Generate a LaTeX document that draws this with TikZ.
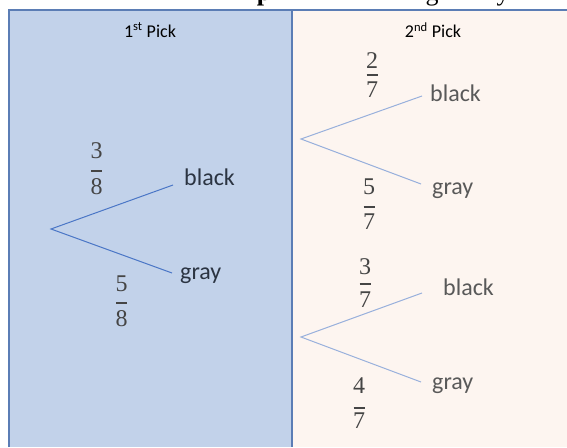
\documentclass[tikz,border=0pt]{standalone}
\usepackage{fontspec}
\setmainfont{Carlito}
\newfontfamily\titlefont{Liberation Serif}
\newfontfamily\digitfont{Liberation Serif}
\definecolor{leftfill}{HTML}{C2D2EA}
\definecolor{rightfill}{HTML}{FDF5F0}
\definecolor{panelline}{HTML}{5B7DB5}
\definecolor{branchdark}{HTML}{4A76C6}
\definecolor{branchlight}{HTML}{98B0DC}
\definecolor{labeldark}{HTML}{2B3442}
\definecolor{labelgray}{HTML}{595959}
\definecolor{fraccol}{HTML}{454545}
\tikzset{
  head/.style={font=\fontsize{18}{20}\selectfont, text=black, inner sep=0pt},
  outcome/.style={font=\fontsize{24}{28}\selectfont, inner sep=0pt, anchor=west},
  digit/.style={font=\digitfont\fontsize{24}{28}\selectfont, text=fraccol, inner sep=0pt},
  fracbar/.style={draw=fraccol, line width=1.3pt},
  cutglyph/.style={font=\titlefont\fontsize{26}{30}\selectfont, anchor=base, inner sep=0pt},
  branchL/.style={draw=branchdark, line width=1pt},
  branchR/.style={draw=branchlight, line width=1pt},
}
% \probfrac{name}{x}{y numerator}{y bar}{y denominator}{numerator}{denominator}
\newcommand\probfrac[7]{%
  \node[digit] (#1n) at (#2,#3) {#6};
  \node[digit] (#1d) at (#2,#5) {#7};
  \draw[fracbar] ([xshift=-5.5pt]#2,#4) -- ([xshift=5.5pt]#2,#4);
}
\begin{document}
\begin{tikzpicture}[x=1pt,y=-1pt]
\useasboundingbox (0,0) rectangle (567,447);
% panels
\fill[rightfill] (292,10) rectangle (567,447);
\fill[leftfill] (9,10) rectangle (292,447);
\draw[panelline, line width=1.2pt] (9,447) -- (9,10) -- (567,10);
\draw[panelline, line width=1.2pt] (292,10) -- (292,447);
% heading line above, cut by the top edge
\begin{scope}
\clip (0,0) rectangle (567,8.5);
\node[cutglyph, font=\titlefont\bfseries\fontsize{26}{30}\selectfont] (tp) at (264,1) {p};
\node[cutglyph] (tg) at (432,1) {g};
\node[cutglyph] (ty) at (503,1) {y};
\end{scope}
% column headings
\node[head] (h1) at (150,30) {1\textsuperscript{st} Pick};
\node[head] (h2) at (433,30) {2\textsuperscript{nd} Pick};
% first pick
\coordinate (r0) at (51,229);
\coordinate (e0b) at (173,185);
\coordinate (e0g) at (172,273);
\draw[branchL] (e0b) -- (r0) -- (e0g);
\node[outcome, text=labeldark] (b0) at (184,177) {black};
\node[outcome, text=labeldark] (g0) at (180,276) {gray};
\probfrac{f0b}{96.5}{150.5}{171}{186.5}{3}{8}
\probfrac{f0g}{121.5}{283.5}{303}{318.5}{5}{8}
% second pick after black
\coordinate (r1) at (301,139);
\coordinate (e1b) at (422,96);
\coordinate (e1g) at (421,184);
\draw[branchR] (e1b) -- (r1) -- (e1g);
\node[outcome, text=labelgray] (b1) at (430,93) {black};
\node[outcome, text=labelgray] (g1) at (432,191) {gray};
\probfrac{f1b}{372}{60.5}{75}{90}{2}{7}
\probfrac{f1g}{369}{186.5}{207}{222}{5}{7}
% second pick after gray
\coordinate (r2) at (301,337);
\coordinate (e2b) at (422,293);
\coordinate (e2g) at (421,382);
\draw[branchR] (e2b) -- (r2) -- (e2g);
\node[outcome, text=labelgray] (b2) at (443,287) {black};
\node[outcome, text=labelgray] (g2) at (432,386) {gray};
\probfrac{f2b}{365}{267}{284}{300}{3}{7}
\probfrac{f2g}{359}{385.5}{408}{421}{4}{7}
\end{tikzpicture}
\end{document}
